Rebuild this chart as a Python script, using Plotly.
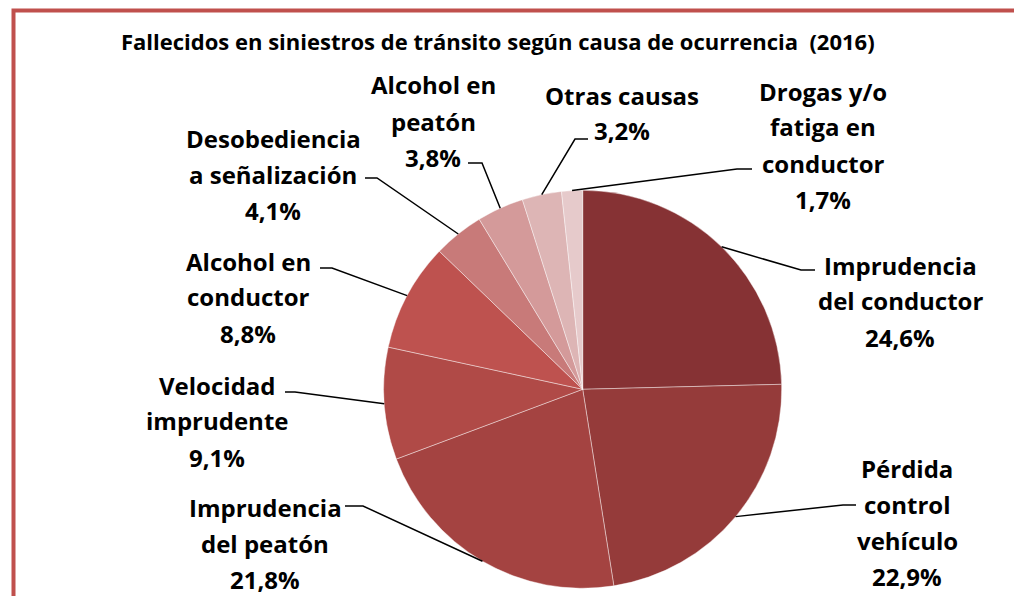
import numpy as np
import plotly.graph_objects as go

W, H = 1022, 596
OFF = 8  # the page body margin shifts the figure by this many pixels

causas = [
    "Imprudencia\ndel conductor",
    "Pérdida\ncontrol\nvehículo",
    "Imprudencia\ndel peatón",
    "Velocidad\nimprudente",
    "Alcohol en\nconductor",
    "Desobediencia\na señalización",
    "Alcohol en\npeatón",
    "Otras causas",
    "Drogas y/o\nfatiga en\nconductor",
]
porcentajes = [24.6, 22.9, 21.8, 9.1, 8.8, 4.1, 3.8, 3.2, 1.7]
colores = [
    "#863234", "#953B3A", "#A44341", "#B04A47", "#BE524F",
    "#C87A79", "#D49A9A", "#DDB5B5", "#E6CACB",
]

# label block centres, leader knee and leader end (screen pixels)
label_pos = [(900, 301), (907, 522), (265, 543), (217, 421), (248, 297),
             (273, 174), (433, 121), (622, 113), (823, 145)]
knees = [(801, 270), (843, 505), (363, 506), (295, 392), (332, 268),
         (377, 178), (482, 163), (575, 139), (737, 169)]
ends = [(815, 270), (856, 505), (345, 506), (285, 392), (320, 268),
        (365, 178), (468, 163), (588, 139), (752, 169)]

# pie placement (screen pixels)
cx, cy, r = 582.7, 389.3, 199

FW, FH = W - OFF, H - OFF


def px(x):
    return (x - OFF) / FW


def py(y):
    return 1 - (y - OFF) / FH


fig = go.Figure()
fig.add_trace(
    go.Pie(
        labels=[c.replace("\n", " ") for c in causas],
        values=porcentajes,
        sort=False,
        direction="clockwise",
        rotation=0,
        textinfo="none",
        hoverinfo="label+percent",
        showlegend=False,
        marker=dict(colors=colores, line=dict(color="rgba(255,255,255,0.6)", width=0.7)),
        domain=dict(x=[px(cx - r), px(cx + r)], y=[py(cy + r), py(cy - r)]),
    )
)

total = sum(porcentajes)
cum = np.cumsum([0] + porcentajes)
shapes = []
annotations = []
spacing = 36
for i, (txt, val) in enumerate(zip(causas, porcentajes)):
    mid = (cum[i] + val / 2) / total * 2 * np.pi
    ex, ey = cx + r * np.sin(mid), cy - r * np.cos(mid)
    kx, ky = knees[i]
    tx, ty = ends[i]
    shapes.append(dict(
        type="path", xref="paper", yref="paper",
        path=f"M {px(ex)} {py(ey)} L {px(kx)} {py(ky)} L {px(tx)} {py(ty)}",
        line=dict(color="black", width=1.5),
    ))
    lines = txt.split("\n") + [f"{val:.1f}%".replace(".", ",")]
    lx, ly = label_pos[i]
    n = len(lines)
    for j, ln in enumerate(lines):
        yy = ly + (j - (n - 1) / 2) * spacing
        annotations.append(dict(
            x=px(lx), y=py(yy), xref="paper", yref="paper",
            text=f"<b>{ln}</b>", showarrow=False,
            xanchor="center", yanchor="middle",
            font=dict(family="Open Sans", size=24, color="black"),
        ))

annotations.append(dict(
    x=px(498), y=py(41), xref="paper", yref="paper",
    text="<b>Fallecidos en siniestros de tránsito según causa de ocurrencia  (2016)</b>",
    showarrow=False, xanchor="center", yanchor="middle",
    font=dict(family="Open Sans", size=22, color="black"),
))

# outer frame: only the top and left edges are visible in the picture
shapes.append(dict(
    type="path", xref="paper", yref="paper",
    path=f"M {px(13.5)} {py(H + 20)} L {px(13.5)} {py(10.5)} L {px(W + 20)} {py(10.5)}",
    line=dict(color="#C0504D", width=4),
))

fig.update_layout(
    width=FW,
    height=FH,
    margin=dict(l=0, r=0, t=0, b=0),
    paper_bgcolor="white",
    plot_bgcolor="white",
    shapes=shapes,
    annotations=annotations,
)

fig.write_html("out.html")
